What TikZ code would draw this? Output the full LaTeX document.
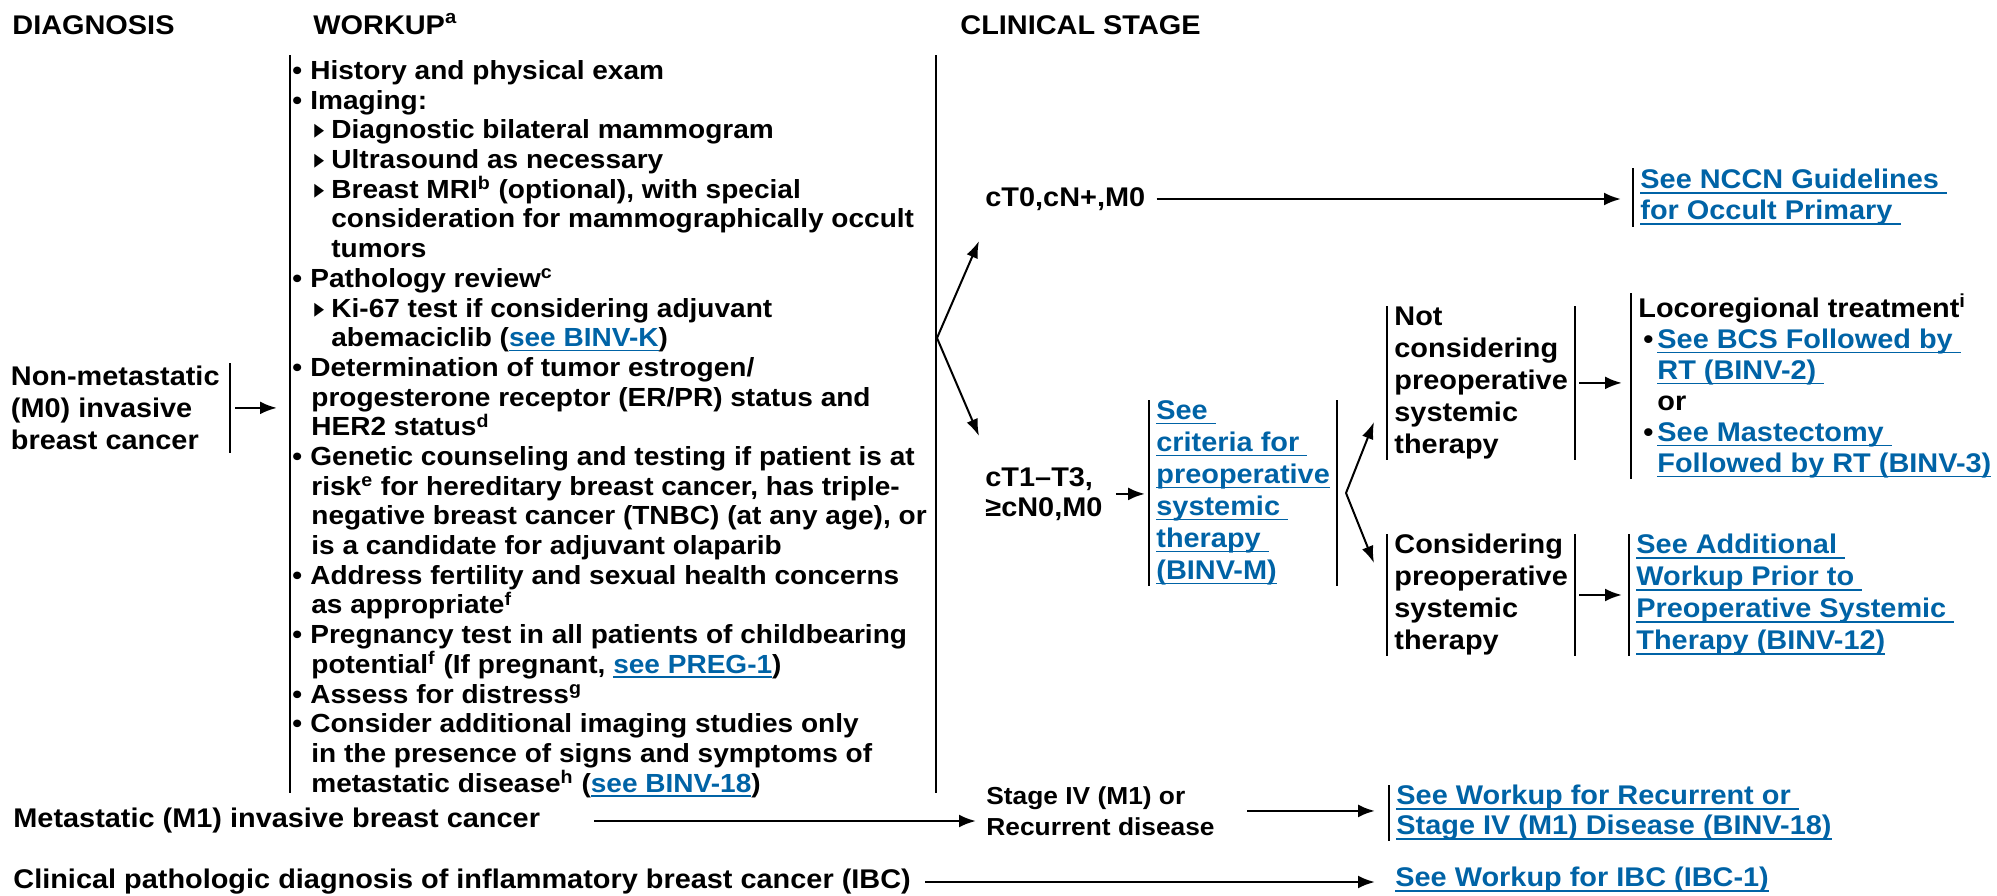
\documentclass[tikz,border=0pt]{standalone}
\usepackage{fontspec}
\setmainfont{Liberation Sans}[FakeStretch=1.07]
\newfontfamily\symfont{DejaVu Sans}
\usepackage{tikz}
\usetikzlibrary{arrows.meta}
\definecolor{nccnblue}{RGB}{0,99,166}
\newcommand{\lnk}[1]{\textcolor{nccnblue}{\setbox0=\hbox{#1}\rlap{\rule[-2.4pt]{\wd0}{0.9pt}}\box0}}
\newcommand{\bul}[1][9pt]{\makebox[#1][l]{•}}
\newcommand{\wkind}{\hspace*{9.5pt}}
\newcommand{\sbul}{\hspace*{11pt}\makebox[8.5pt][l]{\scalebox{0.7}[1]{\symfont\fontsize{14}{14}\selectfont ▸}}}
\newcommand{\wksubind}{\hspace*{19.5pt}}

\begin{document}
\begin{tikzpicture}[x=0.5pt,y=-0.5pt,font=\fontsize{13.5}{16}\selectfont\bfseries]
\tikzstyle{txt} = [inner sep=0pt, align=left]
\tikzstyle{box} = [anchor=north west, align=left, inner xsep=3.5pt, inner ysep=0pt]
\tikzstyle{bar} = [draw, line width=1pt, -]
\tikzstyle{lbar} = [append after command={(\tikzlastnode.north west) edge[bar] (\tikzlastnode.south west)}]
\tikzstyle{rbar} = [append after command={(\tikzlastnode.north east) edge[bar] (\tikzlastnode.south east)}]
\tikzstyle{arrow} = [line width=1.3pt, -{Latex[length=8.5pt,width=6.5pt]}]
\tikzstyle{fork} = [line width=1pt, -{Latex[length=8.5pt,width=6pt]}]

\useasboundingbox (0,0) rectangle (1997,895);

% column heads
\node[txt, anchor=base west] (hdiag) at (12,34) {DIAGNOSIS};
\node[txt, anchor=base west] (hwork) at (313,34) {WORKUP\textsuperscript{a}};
\node[txt, anchor=base west] (hstage) at (960,34) {CLINICAL STAGE};

% workup
\node[txt, anchor=north west, font=\fontsize{13.1}{14.85}\selectfont\bfseries] (wk) at (292,60) {%
\bul History and physical exam\\
\bul Imaging:\\
\sbul Diagnostic bilateral mammogram\\
\sbul Ultrasound as necessary\\
\sbul Breast MRI\textsuperscript{b} (optional), with special\\
\wksubind consideration for mammographically occult\\
\wksubind tumors\\
\bul Pathology review\textsuperscript{c}\\
\sbul Ki-67 test if considering adjuvant\\
\wksubind abemaciclib (\lnk{see BINV-K})\\
\bul Determination of tumor estrogen/\\
\wkind progesterone receptor (ER/PR) status and\\
\wkind HER2 status\textsuperscript{d}\\
\bul Genetic counseling and testing if patient is at\\
\wkind risk\textsuperscript{e} for hereditary breast cancer, has triple-\\
\wkind negative breast cancer (TNBC) (at any age), or\\
\wkind is a candidate for adjuvant olaparib\\
\bul Address fertility and sexual health concerns\\
\wkind as appropriate\textsuperscript{f}\\
\bul Pregnancy test in all patients of childbearing\\
\wkind potential\textsuperscript{f} (If pregnant, \lnk{see PREG-1})\\
\bul Assess for distress\textsuperscript{g}\\
\bul Consider additional imaging studies only\\
\wkind in the presence of signs and symptoms of\\
\wkind metastatic disease\textsuperscript{h} (\lnk{see BINV-18})};
\draw[bar] (290,55) -- (290,793);
\draw[bar] (936,55) -- (936,793);
\coordinate (fk1) at (937,338);

% diagnosis
\node[box, rbar, anchor=north east, inner xsep=5pt, minimum height=44.5pt,
      font=\fontsize{13.5}{15.85}\selectfont\bfseries] (nm) at (230,363)
      {Non-metastatic\\(M0) invasive\\breast cancer};
\draw[arrow, shorten <=2.5pt, shorten >=7.5pt] (nm.east) -- (nm.east -| wk.west);

% clinical stage
\node[txt, anchor=west] (cta) at (985,199) {cT0,cN+,M0};
\node[txt, anchor=north west, font=\fontsize{13.5}{15}\selectfont\bfseries] (ct1) at (985,467)
      {cT1–T3,\\≥cN0,M0};
\coordinate (fk1a) at (979,241);
\coordinate (fk1b) at (979,436);
\draw[fork] (fk1) -- (fk1a);
\draw[fork] (fk1) -- (fk1b);

\node[box, lbar, minimum height=29pt, font=\fontsize{13.5}{15.5}\selectfont\bfseries] (nccn) at (1633,168)
      {\lnk{See NCCN Guidelines }\\\lnk{for Occult Primary }};
\draw[arrow, shorten <=5.5pt, shorten >=6pt] (cta.east) -- (cta.east -| nccn.west);

\node[box, lbar, rbar, minimum height=92.5pt] (crit) at (1149,400)
      {\lnk{See }\\\lnk{criteria for }\\\lnk{preoperative}\\\lnk{systemic }\\\lnk{therapy }\\\lnk{(BINV-M)}};
\draw[arrow, shorten <=6.5pt, shorten >=2pt] (ct1.east) -- (ct1.east -| crit.west);

\coordinate (fk2) at (1346,493);
\coordinate (fk2a) at (1374,422);
\coordinate (fk2b) at (1374,563);
\draw[fork] (fk2) -- (fk2a);
\draw[fork] (fk2) -- (fk2b);

\node[box, lbar, rbar, minimum height=76.5pt] (nc) at (1387,306)
      {Not\\considering\\preoperative\\systemic\\therapy};
\node[box, lbar, rbar, minimum height=60.5pt] (cons) at (1387,534)
      {Considering\\preoperative\\systemic\\therapy};

\node[box, lbar, minimum height=90pt, font=\fontsize{13.5}{15.5}\selectfont\bfseries] (loco) at (1631,293)
      {Locoregional treatment\textsuperscript{i}\\
       \hspace*{2.5pt}\bul[7pt]\lnk{See BCS Followed by }\\
       \hspace*{9.5pt}\lnk{RT (BINV-2) }\\
       \hspace*{9.5pt}or\\
       \hspace*{2.5pt}\bul[7pt]\lnk{See Mastectomy }\\
       \hspace*{9.5pt}\lnk{Followed by RT (BINV-3)}};
\draw[arrow, shorten <=2pt, shorten >=4.5pt] (nc.east) -- (nc.east -| loco.west);

\node[box, lbar, minimum height=60.5pt] (addl) at (1629,534)
      {\lnk{See Additional }\\\lnk{Workup Prior to }\\\lnk{Preoperative Systemic }\\\lnk{Therapy (BINV-12)}};
\draw[arrow, shorten <=2pt, shorten >=3.5pt] (cons.east) -- (cons.east -| addl.west);

% metastatic and IBC
\node[txt, anchor=west] (m1) at (13,821) {Metastatic (M1) invasive breast cancer};
\node[txt, anchor=north west, font=\fontsize{12.3}{15.5}\selectfont\bfseries] (s4) at (986,786)
      {Stage IV (M1) or\\Recurrent disease};
\draw[arrow, shorten <=27pt, shorten >=5pt] (m1.east) -- (m1.east -| s4.west);

\node[box, lbar, minimum height=27.5pt, font=\fontsize{13.5}{15}\selectfont\bfseries] (rec) at (1389,785)
      {\lnk{See Workup for Recurrent or }\\\lnk{Stage IV (M1) Disease (BINV-18)}};
\draw[arrow, shorten <=16pt, shorten >=7pt] (s4.east) -- (s4.east -| rec.west);

\node[txt, anchor=west] (ibc) at (13,882) {Clinical pathologic diagnosis of inflammatory breast cancer (IBC)};
\node[txt, anchor=west] (ibcs) at (1395,880) {\lnk{See Workup for IBC (IBC-1)}};
\draw[arrow, shorten <=7pt, shorten >=10pt] (ibc.east) -- (ibc.east -| ibcs.west);
\end{tikzpicture}
\end{document}
